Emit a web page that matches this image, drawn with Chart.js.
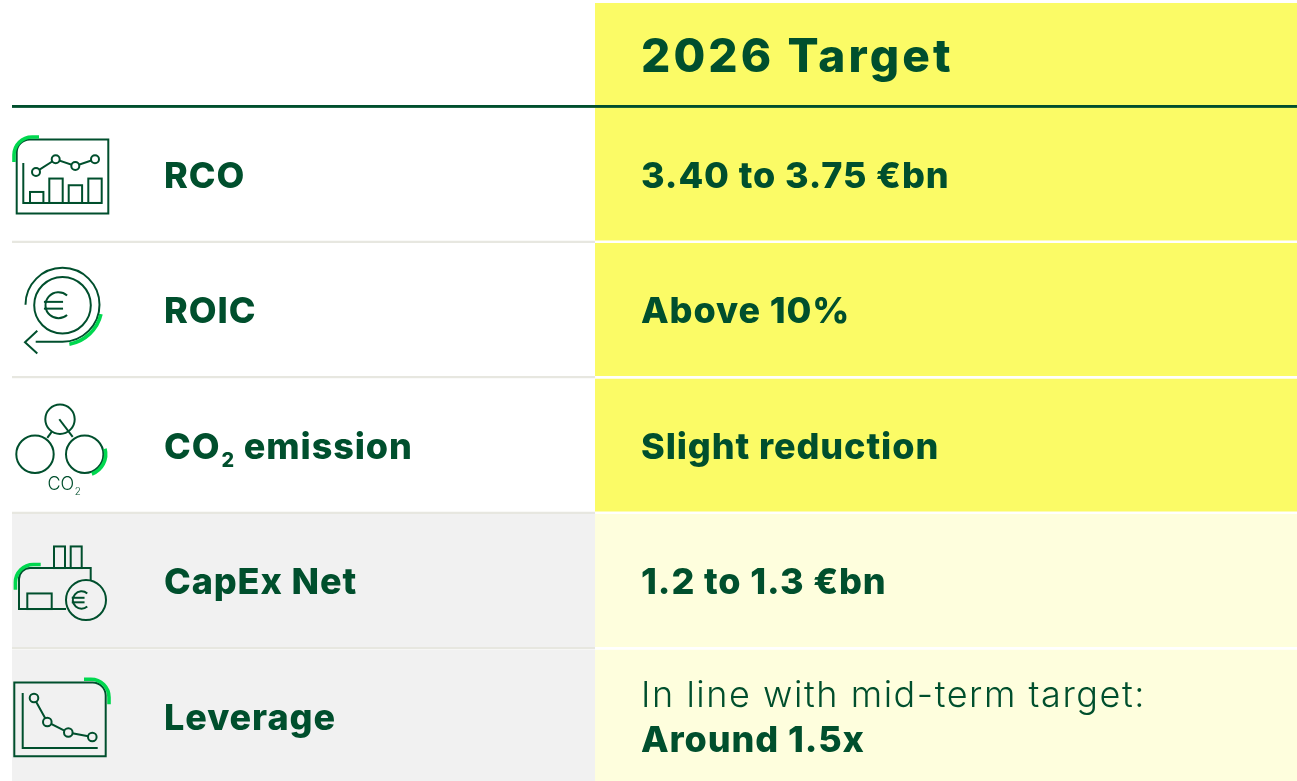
<!DOCTYPE html>
<html>
<head>
<meta charset="utf-8">
<script src="https://cdn.jsdelivr.net/npm/chart.js@4"></script>
<style>
	html, body { margin: 0; padding: 0; background: #fff; }
	body { position: relative; width: 1297px; height: 781px; overflow: hidden; }
	canvas { position: absolute; left: 0; }
	#header { top: 0; }
	#body { top: 107px; }
</style>
</head>
<body>
<canvas id="header" width="1297" height="108"></canvas>
<canvas id="body" width="1297" height="678"></canvas>
<script>
const headerTitle = ['2026 Target']
const categories = ['RCO', 'ROIC', 'CO₂ emission', 'CapEx Net', 'Leverage']
const targetNotes = ['', '', '', '', 'In line with mid-term target:']
const targetValues = ['3.40 to 3.75 €bn', 'Above 10%', 'Slight reduction', '1.2 to 1.3 €bn', 'Around 1.5x']
const metricWidths = [583, 583, 583, 583, 583]
const targetWidths = [702, 702, 702, 702, 702]
const metricColors = ['#ffffff', '#ffffff', '#ffffff', '#f1f1f1', '#f1f1f1']
const targetColors = ['#fbfb66', '#fbfb66', '#fbfb66', '#fefedd', '#fefedd']

const DARK = '#004f2d'
const GREEN = '#00d84f'
const FONT = 'Inter'

const drawText = (ctx, text, x, y, size, weight, spacing) => {
	ctx.font = `${weight} ${size}px ${FONT}`
	ctx.letterSpacing = `${spacing}px`
	ctx.fillStyle = DARK
	ctx.textAlign = 'left'
	ctx.textBaseline = 'alphabetic'
	// the ₂ is set by hand, a bigger subscript than the font's own
	const parts = text.split('₂')
	let left = x
	parts.forEach((part, i) => {
		ctx.fillText(part, left, y)
		left += ctx.measureText(part).width
		if (i < parts.length - 1) {
			ctx.font = `${weight} ${size * 0.55}px ${FONT}`
			ctx.fillText('2', left + size * 0.03, y + size * 0.24)
			left += ctx.measureText('2').width + size * 0.03
			ctx.font = `${weight} ${size}px ${FONT}`
		}
	})
}

const line = (ctx, ...pts) => {
	ctx.beginPath()
	pts.forEach(([x, y], i) => (i ? ctx.lineTo(x, y) : ctx.moveTo(x, y)))
	ctx.stroke()
}
const circle = (ctx, x, y, r, fill) => {
	ctx.beginPath()
	ctx.arc(x, y, r, 0, Math.PI * 2)
	if (fill) {
		ctx.fillStyle = fill
		ctx.fill()
	}
	ctx.stroke()
}
const euro = (ctx, x, y, r) => {
	ctx.beginPath()
	ctx.arc(x, y, r, -0.85, 0.85, true)
	ctx.stroke()
	line(ctx, [x - r * 1.12, y - r * 0.26], [x + r * 0.35, y - r * 0.26])
	line(ctx, [x - r * 1.12, y + r * 0.26], [x + r * 0.35, y + r * 0.26])
}
const accent = (ctx, draw) => {
	ctx.save()
	ctx.strokeStyle = GREEN
	ctx.lineWidth = 3.6
	ctx.beginPath()
	draw()
	ctx.stroke()
	ctx.restore()
}
const rad = (deg) => (deg * Math.PI) / 180

const icons = {
	RCO: (ctx, bg) => {
		ctx.beginPath()
		ctx.roundRect(16.7, -35.7, 91.6, 74, [13, 0, 0, 0])
		ctx.stroke()
		line(ctx, [23.3, -12.3], [23.3, 27.7], [101.7, 27.7])
		;[[30, 16.7], [49.3, 3.3], [68.7, 10], [88.3, 3.3]].forEach(([x, top]) => {
			ctx.strokeRect(x, top, 13.4, 27.7 - top)
		})
		const pts = [[36, -3.3], [55.7, -16], [75.3, -9.3], [95, -16]]
		line(ctx, ...pts)
		pts.forEach(([x, y]) => circle(ctx, x, y, 4, bg))
		accent(ctx, () => {
			ctx.moveTo(14, -13.3)
			ctx.arc(32, -20.3, 18, Math.PI, Math.PI * 1.5)
			ctx.lineTo(39, -38.3)
		})
	},
	ROIC: (ctx) => {
		circle(ctx, 62.5, -5.5, 28.3)
		ctx.beginPath()
		ctx.arc(62.5, -6, 37, Math.PI, Math.PI / 2)
		ctx.lineTo(35.7, 31)
		ctx.stroke()
		line(ctx, [37.3, 20], [25, 31.5], [37.3, 42.7])
		euro(ctx, 58.5, -5.5, 13)
		accent(ctx, () => {
			ctx.arc(62.5, -5.5, 39.5, rad(13), rad(80))
		})
	},
	'CO₂ emission': (ctx) => {
		circle(ctx, 60, -27, 14.7)
		circle(ctx, 35, 8, 18.7)
		circle(ctx, 84.7, 8, 18.7)
		line(ctx, [59.3, -27], [72.7, -9.3])
		line(ctx, [51.7, -14.3], [47.3, -8.3])
		drawText(ctx, 'CO₂', 47.5, 44, 18, 300, 0)
		accent(ctx, () => {
			ctx.arc(84.7, 8, 21, rad(-15), rad(70))
		})
	},
	'CapEx Net': (ctx) => {
		ctx.beginPath()
		ctx.moveTo(66, 27.3)
		ctx.lineTo(19, 27.3)
		ctx.lineTo(19, -3)
		ctx.arcTo(19, -13.7, 32, -13.7, 11)
		ctx.lineTo(90.7, -13.7)
		ctx.lineTo(90.7, -1)
		ctx.stroke()
		ctx.strokeRect(54, -35.3, 11, 21.6)
		ctx.strokeRect(70.7, -35.3, 11, 21.6)
		ctx.strokeRect(27.3, 11.7, 24.4, 15.6)
		circle(ctx, 86, 18.3, 20)
		euro(ctx, 81.5, 18.3, 8.7)
		accent(ctx, () => {
			ctx.moveTo(15.4, 8)
			ctx.arc(33.4, 0.7, 18, Math.PI, Math.PI * 1.5)
			ctx.lineTo(40.7, -17.3)
		})
	},
	Leverage: (ctx, bg) => {
		ctx.beginPath()
		ctx.roundRect(14.3, -34.7, 91.4, 73.7, [0, 13, 0, 0])
		ctx.stroke()
		line(ctx, [22.7, -24.3], [22.7, 30.7], [97.7, 30.7])
		const pts = [[34, -19.3], [47.3, 4.7], [68.3, 15.3], [92.3, 19.7]]
		line(ctx, ...pts)
		pts.forEach(([x, y]) => circle(ctx, x, y, 4.3, bg))
		accent(ctx, () => {
			ctx.moveTo(84, -38)
			ctx.arc(91, -20, 18, Math.PI * 1.5, 0)
			ctx.lineTo(109, -13)
		})
	},
}

// row texts and icons, hung off the bars the library laid out
const tableText = {
	id: 'tableText',
	afterDatasetsDraw(chart) {
		const { ctx } = chart
		const metricBars = chart.getDatasetMeta(0).data
		const targetBars = chart.getDatasetMeta(1).data
		const isHeader = chart.canvas.id === 'header'
		ctx.save()
		metricBars.forEach((bar, i) => {
			const targetLeft = targetBars[i].base + 46
			if (isHeader) {
				drawText(ctx, headerTitle[i], targetLeft, bar.y + 16, 46, 800, 3.1)
				return
			}
			const label = categories[i]
			drawText(ctx, label, bar.base + 152, bar.y + 12.5, 36, 800, 0.9)
			if (targetNotes[i]) {
				drawText(ctx, targetNotes[i], targetLeft, bar.y - 10, 36, 300, 1.55)
				drawText(ctx, targetValues[i], targetLeft, bar.y + 35, 36, 800, 0.9)
			} else {
				drawText(ctx, targetValues[i], targetLeft, bar.y + 12.5, 36, 800, 0.9)
			}
			ctx.save()
			ctx.translate(0, bar.y)
			ctx.strokeStyle = DARK
			ctx.lineWidth = 2
			ctx.letterSpacing = '0px'
			icons[label](ctx, metricColors[i])
			ctx.restore()
		})
		ctx.restore()
	},
}

const makeTable = (id, labels, metric, target, metricFill, targetFill, ruleColors, ruleWidth, padding) =>
	new Chart(document.getElementById(id).getContext('2d'), {
		type: 'bar',
		plugins: [tableText],
		data: {
			labels,
			datasets: [
				{
					data: metric,
					backgroundColor: metricFill,
					borderColor: ruleColors[0],
					borderWidth: { top: 0, left: 0, right: 0, bottom: ruleWidth },
				},
				{
					data: target,
					backgroundColor: targetFill,
					borderColor: ruleColors[1],
					borderWidth: { top: 0, left: 0, right: 0, bottom: ruleWidth },
				},
			],
		},
		options: {
			indexAxis: 'y',
			responsive: false,
			animation: false,
			layout: { padding },
			datasets: {
				bar: { barPercentage: 1, categoryPercentage: 1, inflateAmount: 0, borderSkipped: false },
			},
			plugins: { legend: { display: false }, tooltip: { enabled: false } },
			scales: {
				x: { stacked: true, display: false, min: 0, max: 1285 },
				y: { stacked: true, display: false },
			},
		},
	})

makeTable('header', [''], [metricWidths[0]], [targetWidths[0]], ['#ffffff'], [targetColors[0]], [DARK, DARK], 3, { left: 12, top: 3 })
makeTable('body', categories, metricWidths, targetWidths, metricColors, targetColors, ['#e7e7e0', '#ffffff'], 2.4, { left: 12, top: 0.5 })
</script>
</body>
</html>
